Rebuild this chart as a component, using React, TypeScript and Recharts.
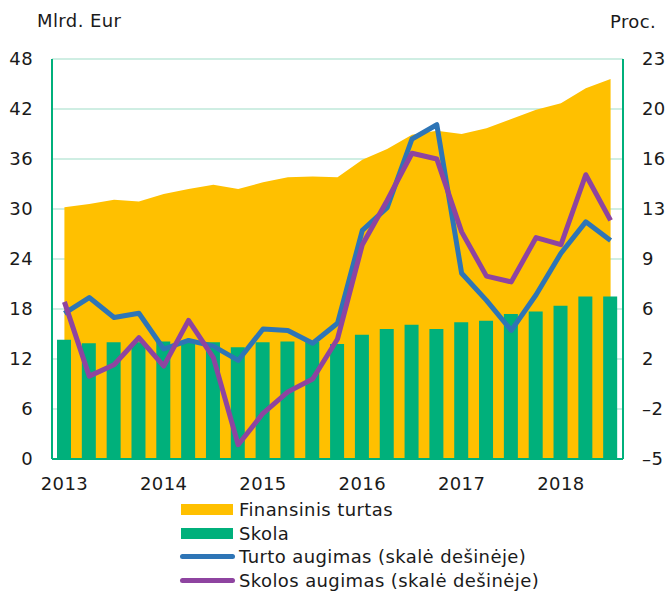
import {
  ComposedChart,
  Area,
  Bar,
  Line,
  XAxis,
  YAxis,
  CartesianGrid,
} from 'recharts';

const quarters = [
  '2013K1', '2013K2', '2013K3', '2013K4',
  '2014K1', '2014K2', '2014K3', '2014K4',
  '2015K1', '2015K2', '2015K3', '2015K4',
  '2016K1', '2016K2', '2016K3', '2016K4',
  '2017K1', '2017K2', '2017K3', '2017K4',
  '2018K1', '2018K2', '2018K3',
];

// mlrd. Eur (left scale)
const finansinisTurtas = [
  30.2, 30.6, 31.1, 30.9, 31.8, 32.4, 32.9, 32.4, 33.2, 33.8, 33.9, 33.8,
  35.9, 37.2, 38.9, 39.4, 39.0, 39.7, 40.8, 41.9, 42.7, 44.5, 45.6,
];
const skola = [
  14.3, 13.9, 14.0, 14.0, 14.1, 14.1, 14.0, 13.4, 14.0, 14.1, 14.1, 13.8,
  14.9, 15.6, 16.1, 15.6, 16.4, 16.6, 17.4, 17.7, 18.4, 19.5, 19.5,
];

// proc. (right scale)
const turtoAugimas = [
  5.2, 6.3, 4.9, 5.2, 2.7, 3.3, 2.9, 1.9, 4.1, 4.0, 3.1, 4.5,
  11.0, 12.6, 17.4, 18.4, 8.0, 6.1, 4.0, 6.5, 9.4, 11.6, 10.3,
];
const skolosAugimas = [
  6.0, 0.8, 1.6, 3.5, 1.5, 4.7, 2.1, -4.0, -1.8, -0.3, 0.6, 3.4,
  10.0, 13.1, 16.4, 16.0, 10.9, 7.8, 7.4, 10.5, 10.0, 14.9, 11.7,
];

const leftTicks = [0, 6, 12, 18, 24, 30, 36, 42, 48];
const rightTicks = [-5, -1.5, 2, 5.5, 9, 12.5, 16, 19.5, 23];
const yearTicks = quarters.filter((q) => q.endsWith('K1'));

const data = quarters.map((q, i) => ({
  q,
  turtas: finansinisTurtas[i],
  skola: skola[i],
  turtoAug: turtoAugimas[i],
  skolosAug: skolosAugimas[i],
}));

const ORANGE = '#ffc000';
const GREEN = '#00b07b';
const BLUE = '#2e75b6';
const PURPLE = '#8e44a0';
const GRID = '#bfe9da';
const FONT = '"DejaVu Sans", Verdana, sans-serif';
const TEXT = '#1a1a1a';

const tickStyle = { fontSize: 18, fill: TEXT, fontFamily: FONT };

// labels on the right scale are rounded (half away from zero), with an en dash as minus
const fmtRight = (v: number) =>
  (v < 0 ? '\u2013' : '') + Math.round(Math.abs(v));

const legendItems = [
  { label: 'Finansinis turtas', color: ORANGE, kind: 'rect' },
  { label: 'Skola', color: GREEN, kind: 'rect' },
  { label: 'Turto augimas (skalė dešinėje)', color: BLUE, kind: 'line' },
  { label: 'Skolos augimas (skalė dešinėje)', color: PURPLE, kind: 'line' },
];

export default function App() {
  return (
    <div
      style={{
        position: 'absolute',
        left: 0,
        top: 0,
        width: 667,
        height: 591,
        background: '#fff',
        fontFamily: FONT,
        color: TEXT,
        letterSpacing: 0.4,
      }}
    >
      <div style={{ position: 'absolute', left: 37, top: 10, fontSize: 18 }}>
        Mlrd. Eur
      </div>
      <div style={{ position: 'absolute', left: 610, top: 11, fontSize: 18 }}>
        Proc.
      </div>

      <ComposedChart
        width={667}
        height={500}
        data={data}
        margin={{ top: 59, right: 0, left: 0, bottom: 0 }}
        style={{ position: 'absolute', left: 0, top: 0 }}
      >
        <CartesianGrid yAxisId="left" vertical={false} stroke={GRID} strokeWidth={1.5} />
        <XAxis
          dataKey="q"
          ticks={yearTicks}
          interval={0}
          tickFormatter={(s: string) => s.slice(0, 4)}
          tick={tickStyle}
          tickLine={false}
          tickMargin={12}
          axisLine={{ stroke: GREEN, strokeWidth: 2 }}
          height={41}
        />
        <YAxis
          yAxisId="left"
          domain={[0, 48]}
          ticks={leftTicks}
          interval={0}
          tick={tickStyle}
          tickLine={false}
          tickMargin={13}
          axisLine={{ stroke: GREEN, strokeWidth: 2 }}
          width={52}
        />
        <YAxis
          yAxisId="right"
          orientation="right"
          domain={[-5, 23]}
          ticks={rightTicks}
          interval={0}
          tickFormatter={fmtRight}
          tick={{ ...tickStyle, textAnchor: 'start' }}
          tickLine={false}
          tickMargin={13}
          axisLine={{ stroke: GREEN, strokeWidth: 2 }}
          width={44}
        />
        <Area
          yAxisId="left"
          type="linear"
          dataKey="turtas"
          stroke="none"
          fill={ORANGE}
          fillOpacity={1}
          isAnimationActive={false}
        />
        <Bar
          yAxisId="left"
          dataKey="skola"
          fill={GREEN}
          barSize={14}
          isAnimationActive={false}
        />
        <Line
          yAxisId="right"
          type="linear"
          dataKey="turtoAug"
          stroke={BLUE}
          strokeWidth={5}
          strokeLinejoin="round"
          dot={false}
          activeDot={false}
          isAnimationActive={false}
        />
        <Line
          yAxisId="right"
          type="linear"
          dataKey="skolosAug"
          stroke={PURPLE}
          strokeWidth={5}
          strokeLinejoin="round"
          dot={false}
          activeDot={false}
          isAnimationActive={false}
        />
      </ComposedChart>

      {legendItems.map((it, i) => {
        const cy = 509.5 + i * 23.7;
        return (
          <div
            key={it.label}
            style={{
              position: 'absolute',
              left: 180,
              top: cy - 12,
              height: 24,
              display: 'flex',
              alignItems: 'center',
              fontSize: 18,
              whiteSpace: 'nowrap',
            }}
          >
            {it.kind === 'rect' ? (
              <span
                style={{
                  display: 'inline-block',
                  width: 52,
                  height: 11,
                  marginLeft: 1,
                  marginRight: 6,
                  background: it.color,
                }}
              />
            ) : (
              <span
                style={{
                  display: 'inline-block',
                  width: 55,
                  height: 5,
                  borderRadius: 3,
                  marginRight: 4,
                  background: it.color,
                }}
              />
            )}
            <span>{it.label}</span>
          </div>
        );
      })}
    </div>
  );
}
